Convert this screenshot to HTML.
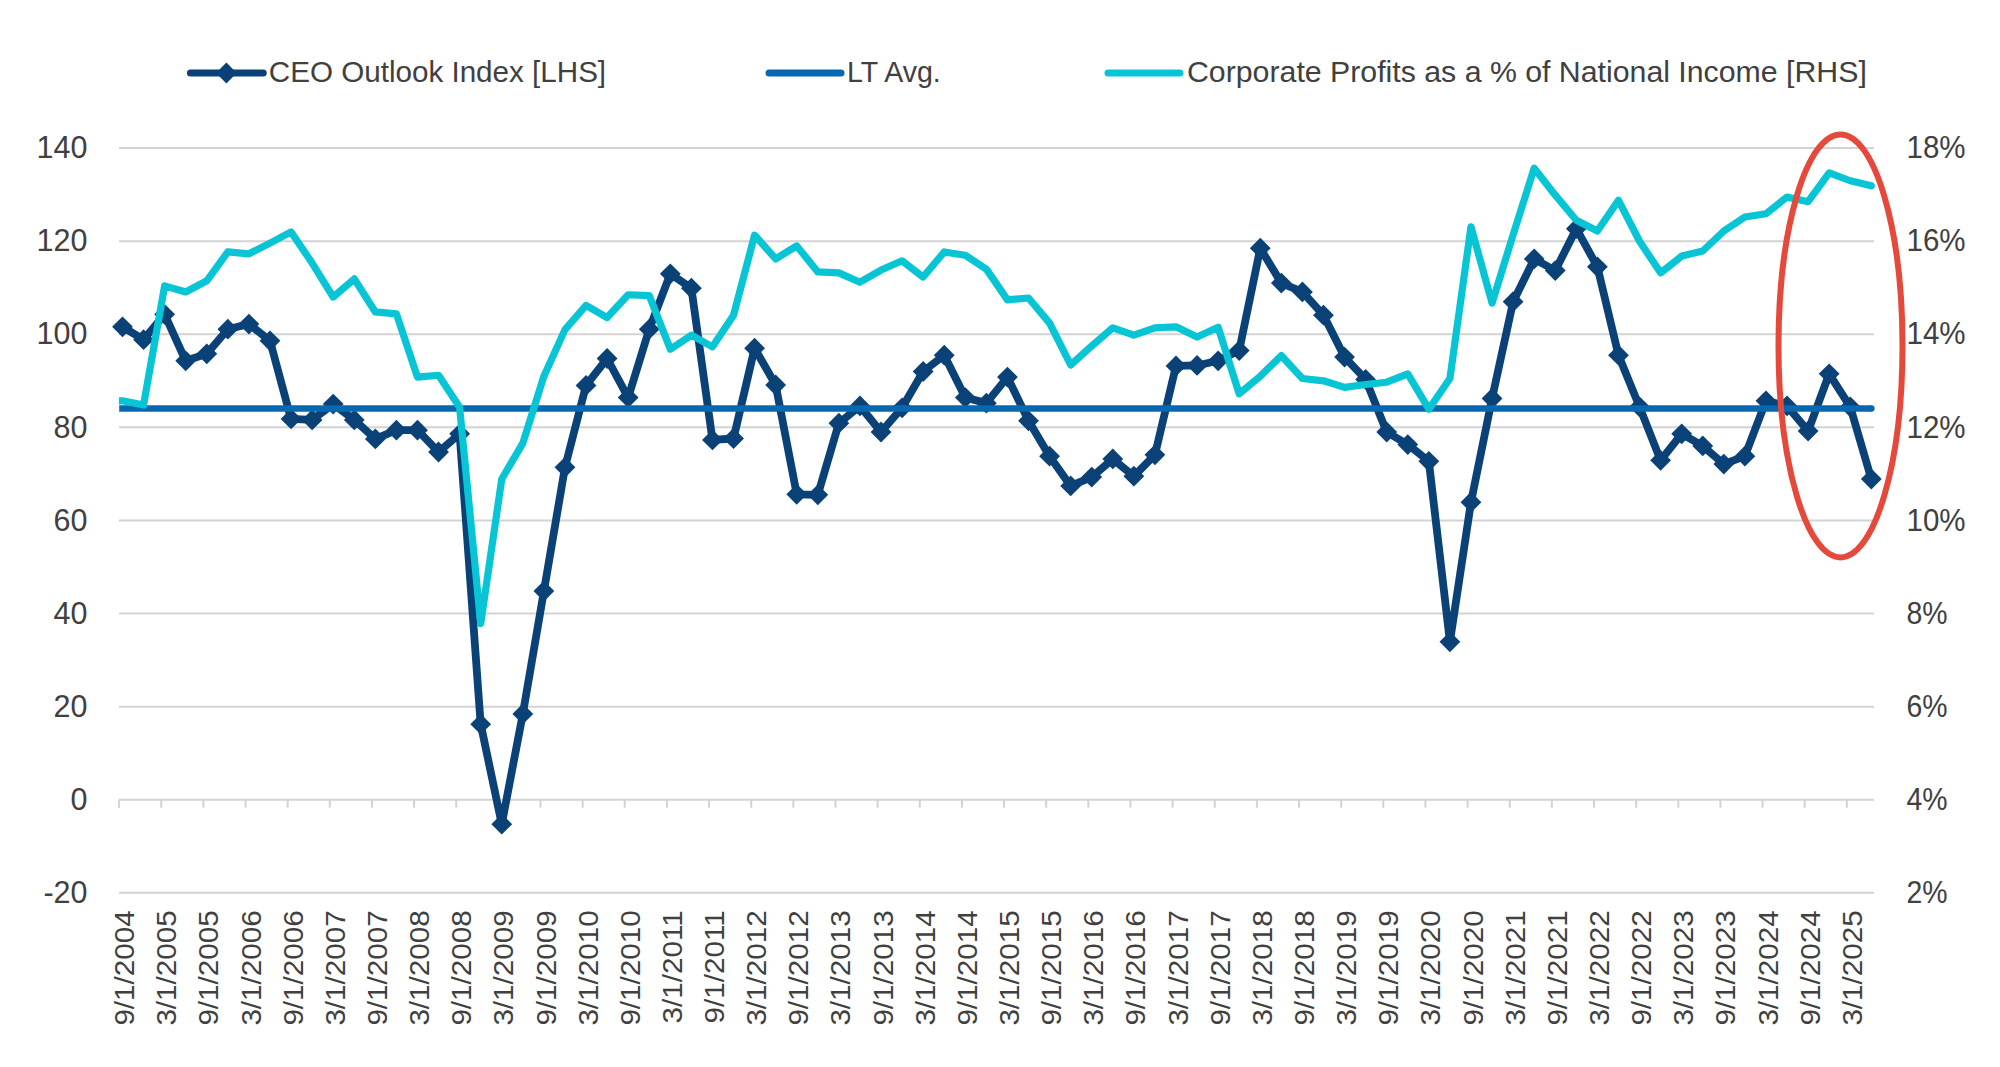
<!DOCTYPE html>
<html><head><meta charset="utf-8"><style>
html,body{margin:0;padding:0;background:#fff;width:2000px;height:1067px;overflow:hidden}
svg{display:block}
text{font-family:"Liberation Sans",sans-serif}
</style></head><body>
<svg width="2000" height="1067" viewBox="0 0 2000 1067">
<rect width="2000" height="1067" fill="#ffffff"/>
<line x1="119.0" y1="148.06" x2="1874.0" y2="148.06" stroke="#d3d3d3" stroke-width="2.0"/>
<line x1="119.0" y1="241.16" x2="1874.0" y2="241.16" stroke="#d3d3d3" stroke-width="2.0"/>
<line x1="119.0" y1="334.26" x2="1874.0" y2="334.26" stroke="#d3d3d3" stroke-width="2.0"/>
<line x1="119.0" y1="427.36" x2="1874.0" y2="427.36" stroke="#d3d3d3" stroke-width="2.0"/>
<line x1="119.0" y1="520.46" x2="1874.0" y2="520.46" stroke="#d3d3d3" stroke-width="2.0"/>
<line x1="119.0" y1="613.56" x2="1874.0" y2="613.56" stroke="#d3d3d3" stroke-width="2.0"/>
<line x1="119.0" y1="706.66" x2="1874.0" y2="706.66" stroke="#d3d3d3" stroke-width="2.0"/>
<line x1="119.0" y1="892.86" x2="1874.0" y2="892.86" stroke="#d3d3d3" stroke-width="2.0"/>
<line x1="119.0" y1="799.76" x2="1874.0" y2="799.76" stroke="#d3d3d3" stroke-width="2.0"/>
<line x1="119.10" y1="799.76" x2="119.10" y2="807.76" stroke="#d3d3d3" stroke-width="2.0"/>
<line x1="161.24" y1="799.76" x2="161.24" y2="807.76" stroke="#d3d3d3" stroke-width="2.0"/>
<line x1="203.38" y1="799.76" x2="203.38" y2="807.76" stroke="#d3d3d3" stroke-width="2.0"/>
<line x1="245.52" y1="799.76" x2="245.52" y2="807.76" stroke="#d3d3d3" stroke-width="2.0"/>
<line x1="287.66" y1="799.76" x2="287.66" y2="807.76" stroke="#d3d3d3" stroke-width="2.0"/>
<line x1="329.80" y1="799.76" x2="329.80" y2="807.76" stroke="#d3d3d3" stroke-width="2.0"/>
<line x1="371.94" y1="799.76" x2="371.94" y2="807.76" stroke="#d3d3d3" stroke-width="2.0"/>
<line x1="414.08" y1="799.76" x2="414.08" y2="807.76" stroke="#d3d3d3" stroke-width="2.0"/>
<line x1="456.22" y1="799.76" x2="456.22" y2="807.76" stroke="#d3d3d3" stroke-width="2.0"/>
<line x1="498.36" y1="799.76" x2="498.36" y2="807.76" stroke="#d3d3d3" stroke-width="2.0"/>
<line x1="540.50" y1="799.76" x2="540.50" y2="807.76" stroke="#d3d3d3" stroke-width="2.0"/>
<line x1="582.64" y1="799.76" x2="582.64" y2="807.76" stroke="#d3d3d3" stroke-width="2.0"/>
<line x1="624.78" y1="799.76" x2="624.78" y2="807.76" stroke="#d3d3d3" stroke-width="2.0"/>
<line x1="666.92" y1="799.76" x2="666.92" y2="807.76" stroke="#d3d3d3" stroke-width="2.0"/>
<line x1="709.06" y1="799.76" x2="709.06" y2="807.76" stroke="#d3d3d3" stroke-width="2.0"/>
<line x1="751.20" y1="799.76" x2="751.20" y2="807.76" stroke="#d3d3d3" stroke-width="2.0"/>
<line x1="793.34" y1="799.76" x2="793.34" y2="807.76" stroke="#d3d3d3" stroke-width="2.0"/>
<line x1="835.48" y1="799.76" x2="835.48" y2="807.76" stroke="#d3d3d3" stroke-width="2.0"/>
<line x1="877.62" y1="799.76" x2="877.62" y2="807.76" stroke="#d3d3d3" stroke-width="2.0"/>
<line x1="919.76" y1="799.76" x2="919.76" y2="807.76" stroke="#d3d3d3" stroke-width="2.0"/>
<line x1="961.90" y1="799.76" x2="961.90" y2="807.76" stroke="#d3d3d3" stroke-width="2.0"/>
<line x1="1004.04" y1="799.76" x2="1004.04" y2="807.76" stroke="#d3d3d3" stroke-width="2.0"/>
<line x1="1046.18" y1="799.76" x2="1046.18" y2="807.76" stroke="#d3d3d3" stroke-width="2.0"/>
<line x1="1088.32" y1="799.76" x2="1088.32" y2="807.76" stroke="#d3d3d3" stroke-width="2.0"/>
<line x1="1130.46" y1="799.76" x2="1130.46" y2="807.76" stroke="#d3d3d3" stroke-width="2.0"/>
<line x1="1172.60" y1="799.76" x2="1172.60" y2="807.76" stroke="#d3d3d3" stroke-width="2.0"/>
<line x1="1214.74" y1="799.76" x2="1214.74" y2="807.76" stroke="#d3d3d3" stroke-width="2.0"/>
<line x1="1256.88" y1="799.76" x2="1256.88" y2="807.76" stroke="#d3d3d3" stroke-width="2.0"/>
<line x1="1299.02" y1="799.76" x2="1299.02" y2="807.76" stroke="#d3d3d3" stroke-width="2.0"/>
<line x1="1341.16" y1="799.76" x2="1341.16" y2="807.76" stroke="#d3d3d3" stroke-width="2.0"/>
<line x1="1383.30" y1="799.76" x2="1383.30" y2="807.76" stroke="#d3d3d3" stroke-width="2.0"/>
<line x1="1425.44" y1="799.76" x2="1425.44" y2="807.76" stroke="#d3d3d3" stroke-width="2.0"/>
<line x1="1467.58" y1="799.76" x2="1467.58" y2="807.76" stroke="#d3d3d3" stroke-width="2.0"/>
<line x1="1509.72" y1="799.76" x2="1509.72" y2="807.76" stroke="#d3d3d3" stroke-width="2.0"/>
<line x1="1551.86" y1="799.76" x2="1551.86" y2="807.76" stroke="#d3d3d3" stroke-width="2.0"/>
<line x1="1594.00" y1="799.76" x2="1594.00" y2="807.76" stroke="#d3d3d3" stroke-width="2.0"/>
<line x1="1636.14" y1="799.76" x2="1636.14" y2="807.76" stroke="#d3d3d3" stroke-width="2.0"/>
<line x1="1678.28" y1="799.76" x2="1678.28" y2="807.76" stroke="#d3d3d3" stroke-width="2.0"/>
<line x1="1720.42" y1="799.76" x2="1720.42" y2="807.76" stroke="#d3d3d3" stroke-width="2.0"/>
<line x1="1762.56" y1="799.76" x2="1762.56" y2="807.76" stroke="#d3d3d3" stroke-width="2.0"/>
<line x1="1804.70" y1="799.76" x2="1804.70" y2="807.76" stroke="#d3d3d3" stroke-width="2.0"/>
<line x1="1846.84" y1="799.76" x2="1846.84" y2="807.76" stroke="#d3d3d3" stroke-width="2.0"/>
<polyline points="122.50,326.84 143.57,339.64 164.64,314.28 185.71,360.80 206.78,353.83 227.85,329.17 248.92,324.05 269.99,340.80 291.06,418.96 312.13,419.89 333.20,404.07 354.27,419.89 375.34,438.97 396.41,430.13 417.48,430.13 438.55,451.99 459.62,433.85 480.69,724.16 501.76,824.19 522.83,713.93 543.90,591.10 564.97,467.35 586.04,385.46 607.11,358.48 628.18,397.56 649.25,329.17 670.32,273.80 691.39,288.23 712.46,439.90 733.53,438.50 754.60,348.24 775.67,385.00 796.74,494.33 817.81,494.80 838.88,423.15 859.95,405.93 881.02,431.99 902.09,407.79 923.16,371.50 944.23,355.22 965.30,397.56 986.37,403.14 1007.44,377.09 1028.51,420.82 1049.58,456.18 1070.65,485.96 1091.72,477.12 1112.79,458.97 1133.86,476.19 1154.93,454.78 1176.00,365.92 1197.07,365.46 1218.14,360.80 1239.21,350.57 1260.28,248.21 1281.35,283.11 1302.42,291.95 1323.49,315.21 1344.56,357.08 1365.63,379.41 1386.70,431.99 1407.77,444.55 1428.84,461.30 1449.91,641.82 1470.98,502.24 1492.05,398.49 1513.12,301.72 1534.19,258.91 1555.26,270.55 1576.33,228.67 1597.40,266.82 1618.47,355.22 1639.54,406.86 1660.61,460.37 1681.68,433.85 1702.75,445.94 1723.82,464.09 1744.89,456.18 1765.96,400.82 1787.03,405.93 1808.10,431.06 1829.17,373.83 1850.24,406.86 1871.31,478.98" fill="none" stroke="#0a4176" stroke-width="7.8" stroke-linejoin="round" stroke-linecap="round"/>
<path d="M122.50 316.44L132.90 326.84L122.50 337.24L112.10 326.84Z" fill="#0a4176"/>
<path d="M143.57 329.24L153.97 339.64L143.57 350.04L133.17 339.64Z" fill="#0a4176"/>
<path d="M164.64 303.88L175.04 314.28L164.64 324.68L154.24 314.28Z" fill="#0a4176"/>
<path d="M185.71 350.40L196.11 360.80L185.71 371.20L175.31 360.80Z" fill="#0a4176"/>
<path d="M206.78 343.43L217.18 353.83L206.78 364.23L196.38 353.83Z" fill="#0a4176"/>
<path d="M227.85 318.77L238.25 329.17L227.85 339.57L217.45 329.17Z" fill="#0a4176"/>
<path d="M248.92 313.65L259.32 324.05L248.92 334.45L238.52 324.05Z" fill="#0a4176"/>
<path d="M269.99 330.40L280.39 340.80L269.99 351.20L259.59 340.80Z" fill="#0a4176"/>
<path d="M291.06 408.56L301.46 418.96L291.06 429.36L280.66 418.96Z" fill="#0a4176"/>
<path d="M312.13 409.49L322.53 419.89L312.13 430.29L301.73 419.89Z" fill="#0a4176"/>
<path d="M333.20 393.67L343.60 404.07L333.20 414.47L322.80 404.07Z" fill="#0a4176"/>
<path d="M354.27 409.49L364.67 419.89L354.27 430.29L343.87 419.89Z" fill="#0a4176"/>
<path d="M375.34 428.57L385.74 438.97L375.34 449.37L364.94 438.97Z" fill="#0a4176"/>
<path d="M396.41 419.73L406.81 430.13L396.41 440.53L386.01 430.13Z" fill="#0a4176"/>
<path d="M417.48 419.73L427.88 430.13L417.48 440.53L407.08 430.13Z" fill="#0a4176"/>
<path d="M438.55 441.59L448.95 451.99L438.55 462.39L428.15 451.99Z" fill="#0a4176"/>
<path d="M459.62 423.45L470.02 433.85L459.62 444.25L449.22 433.85Z" fill="#0a4176"/>
<path d="M480.69 713.76L491.09 724.16L480.69 734.56L470.29 724.16Z" fill="#0a4176"/>
<path d="M501.76 813.79L512.16 824.19L501.76 834.59L491.36 824.19Z" fill="#0a4176"/>
<path d="M522.83 703.53L533.23 713.93L522.83 724.33L512.43 713.93Z" fill="#0a4176"/>
<path d="M543.90 580.70L554.30 591.10L543.90 601.50L533.50 591.10Z" fill="#0a4176"/>
<path d="M564.97 456.95L575.37 467.35L564.97 477.75L554.57 467.35Z" fill="#0a4176"/>
<path d="M586.04 375.06L596.44 385.46L586.04 395.86L575.64 385.46Z" fill="#0a4176"/>
<path d="M607.11 348.08L617.51 358.48L607.11 368.88L596.71 358.48Z" fill="#0a4176"/>
<path d="M628.18 387.16L638.58 397.56L628.18 407.96L617.78 397.56Z" fill="#0a4176"/>
<path d="M649.25 318.77L659.65 329.17L649.25 339.57L638.85 329.17Z" fill="#0a4176"/>
<path d="M670.32 263.40L680.72 273.80L670.32 284.20L659.92 273.80Z" fill="#0a4176"/>
<path d="M691.39 277.83L701.79 288.23L691.39 298.62L680.99 288.23Z" fill="#0a4176"/>
<path d="M712.46 429.50L722.86 439.90L712.46 450.30L702.06 439.90Z" fill="#0a4176"/>
<path d="M733.53 428.10L743.93 438.50L733.53 448.90L723.13 438.50Z" fill="#0a4176"/>
<path d="M754.60 337.84L765.00 348.24L754.60 358.64L744.20 348.24Z" fill="#0a4176"/>
<path d="M775.67 374.60L786.07 385.00L775.67 395.40L765.27 385.00Z" fill="#0a4176"/>
<path d="M796.74 483.93L807.14 494.33L796.74 504.73L786.34 494.33Z" fill="#0a4176"/>
<path d="M817.81 484.40L828.21 494.80L817.81 505.20L807.41 494.80Z" fill="#0a4176"/>
<path d="M838.88 412.75L849.28 423.15L838.88 433.55L828.48 423.15Z" fill="#0a4176"/>
<path d="M859.95 395.53L870.35 405.93L859.95 416.33L849.55 405.93Z" fill="#0a4176"/>
<path d="M881.02 421.59L891.42 431.99L881.02 442.39L870.62 431.99Z" fill="#0a4176"/>
<path d="M902.09 397.39L912.49 407.79L902.09 418.19L891.69 407.79Z" fill="#0a4176"/>
<path d="M923.16 361.10L933.56 371.50L923.16 381.90L912.76 371.50Z" fill="#0a4176"/>
<path d="M944.23 344.82L954.63 355.22L944.23 365.62L933.83 355.22Z" fill="#0a4176"/>
<path d="M965.30 387.16L975.70 397.56L965.30 407.96L954.90 397.56Z" fill="#0a4176"/>
<path d="M986.37 392.74L996.77 403.14L986.37 413.54L975.97 403.14Z" fill="#0a4176"/>
<path d="M1007.44 366.69L1017.84 377.09L1007.44 387.49L997.04 377.09Z" fill="#0a4176"/>
<path d="M1028.51 410.42L1038.91 420.82L1028.51 431.22L1018.11 420.82Z" fill="#0a4176"/>
<path d="M1049.58 445.78L1059.98 456.18L1049.58 466.58L1039.18 456.18Z" fill="#0a4176"/>
<path d="M1070.65 475.56L1081.05 485.96L1070.65 496.36L1060.25 485.96Z" fill="#0a4176"/>
<path d="M1091.72 466.72L1102.12 477.12L1091.72 487.52L1081.32 477.12Z" fill="#0a4176"/>
<path d="M1112.79 448.57L1123.19 458.97L1112.79 469.37L1102.39 458.97Z" fill="#0a4176"/>
<path d="M1133.86 465.79L1144.26 476.19L1133.86 486.59L1123.46 476.19Z" fill="#0a4176"/>
<path d="M1154.93 444.38L1165.33 454.78L1154.93 465.18L1144.53 454.78Z" fill="#0a4176"/>
<path d="M1176.00 355.52L1186.40 365.92L1176.00 376.32L1165.60 365.92Z" fill="#0a4176"/>
<path d="M1197.07 355.06L1207.47 365.46L1197.07 375.86L1186.67 365.46Z" fill="#0a4176"/>
<path d="M1218.14 350.40L1228.54 360.80L1218.14 371.20L1207.74 360.80Z" fill="#0a4176"/>
<path d="M1239.21 340.17L1249.61 350.57L1239.21 360.97L1228.81 350.57Z" fill="#0a4176"/>
<path d="M1260.28 237.81L1270.68 248.21L1260.28 258.61L1249.88 248.21Z" fill="#0a4176"/>
<path d="M1281.35 272.71L1291.75 283.11L1281.35 293.51L1270.95 283.11Z" fill="#0a4176"/>
<path d="M1302.42 281.55L1312.82 291.95L1302.42 302.35L1292.02 291.95Z" fill="#0a4176"/>
<path d="M1323.49 304.81L1333.89 315.21L1323.49 325.61L1313.09 315.21Z" fill="#0a4176"/>
<path d="M1344.56 346.68L1354.96 357.08L1344.56 367.48L1334.16 357.08Z" fill="#0a4176"/>
<path d="M1365.63 369.01L1376.03 379.41L1365.63 389.81L1355.23 379.41Z" fill="#0a4176"/>
<path d="M1386.70 421.59L1397.10 431.99L1386.70 442.39L1376.30 431.99Z" fill="#0a4176"/>
<path d="M1407.77 434.15L1418.17 444.55L1407.77 454.95L1397.37 444.55Z" fill="#0a4176"/>
<path d="M1428.84 450.90L1439.24 461.30L1428.84 471.70L1418.44 461.30Z" fill="#0a4176"/>
<path d="M1449.91 631.42L1460.31 641.82L1449.91 652.22L1439.51 641.82Z" fill="#0a4176"/>
<path d="M1470.98 491.84L1481.38 502.24L1470.98 512.64L1460.58 502.24Z" fill="#0a4176"/>
<path d="M1492.05 388.09L1502.45 398.49L1492.05 408.89L1481.65 398.49Z" fill="#0a4176"/>
<path d="M1513.12 291.32L1523.52 301.72L1513.12 312.12L1502.72 301.72Z" fill="#0a4176"/>
<path d="M1534.19 248.51L1544.59 258.91L1534.19 269.31L1523.79 258.91Z" fill="#0a4176"/>
<path d="M1555.26 260.15L1565.66 270.55L1555.26 280.95L1544.86 270.55Z" fill="#0a4176"/>
<path d="M1576.33 218.27L1586.73 228.67L1576.33 239.07L1565.93 228.67Z" fill="#0a4176"/>
<path d="M1597.40 256.42L1607.80 266.82L1597.40 277.22L1587.00 266.82Z" fill="#0a4176"/>
<path d="M1618.47 344.82L1628.87 355.22L1618.47 365.62L1608.07 355.22Z" fill="#0a4176"/>
<path d="M1639.54 396.46L1649.94 406.86L1639.54 417.26L1629.14 406.86Z" fill="#0a4176"/>
<path d="M1660.61 449.97L1671.01 460.37L1660.61 470.77L1650.21 460.37Z" fill="#0a4176"/>
<path d="M1681.68 423.45L1692.08 433.85L1681.68 444.25L1671.28 433.85Z" fill="#0a4176"/>
<path d="M1702.75 435.54L1713.15 445.94L1702.75 456.34L1692.35 445.94Z" fill="#0a4176"/>
<path d="M1723.82 453.69L1734.22 464.09L1723.82 474.49L1713.42 464.09Z" fill="#0a4176"/>
<path d="M1744.89 445.78L1755.29 456.18L1744.89 466.58L1734.49 456.18Z" fill="#0a4176"/>
<path d="M1765.96 390.42L1776.36 400.82L1765.96 411.22L1755.56 400.82Z" fill="#0a4176"/>
<path d="M1787.03 395.53L1797.43 405.93L1787.03 416.33L1776.63 405.93Z" fill="#0a4176"/>
<path d="M1808.10 420.66L1818.50 431.06L1808.10 441.46L1797.70 431.06Z" fill="#0a4176"/>
<path d="M1829.17 363.43L1839.57 373.83L1829.17 384.23L1818.77 373.83Z" fill="#0a4176"/>
<path d="M1850.24 396.46L1860.64 406.86L1850.24 417.26L1839.84 406.86Z" fill="#0a4176"/>
<path d="M1871.31 468.58L1881.71 478.98L1871.31 489.38L1860.91 478.98Z" fill="#0a4176"/>
<line x1="119.20" y1="408.49" x2="1871.31" y2="408.49" stroke="#0568b1" stroke-width="6.6" stroke-linecap="butt"/>
<circle cx="1871.31" cy="408.49" r="3.30" fill="#0568b1"/>
<polyline points="118.90,400.82 122.50,400.82 143.57,405.00 164.64,285.90 185.71,291.95 206.78,280.78 227.85,251.94 248.92,253.80 269.99,243.10 291.06,231.93 312.13,263.10 333.20,297.06 354.27,278.92 375.34,311.95 396.41,313.81 417.48,377.09 438.55,375.23 459.62,407.33 480.69,623.67 501.76,478.98 522.83,443.15 543.90,376.16 564.97,329.63 586.04,305.44 607.11,317.54 628.18,294.74 649.25,295.67 670.32,349.17 691.39,335.22 712.46,346.85 733.53,315.21 754.60,235.19 775.67,258.91 796.74,245.89 817.81,271.94 838.88,272.87 859.95,282.18 881.02,270.08 902.09,260.78 923.16,277.06 944.23,251.94 965.30,255.19 986.37,269.15 1007.44,299.86 1028.51,298.00 1049.58,323.12 1070.65,364.99 1091.72,345.92 1112.79,327.77 1133.86,335.22 1154.93,327.77 1176.00,326.84 1197.07,337.08 1218.14,327.31 1239.21,393.84 1260.28,376.16 1281.35,355.69 1302.42,378.48 1323.49,380.81 1344.56,387.32 1365.63,384.53 1386.70,382.21 1407.77,373.83 1428.84,409.19 1449.91,378.48 1470.98,226.81 1492.05,303.11 1513.12,234.72 1534.19,168.19 1555.26,195.18 1576.33,220.30 1597.40,231.00 1618.47,200.29 1639.54,241.23 1660.61,272.87 1681.68,256.12 1702.75,251.00 1723.82,231.00 1744.89,217.04 1765.96,213.78 1787.03,197.04 1808.10,201.69 1829.17,172.84 1850.24,180.75 1871.31,185.87" fill="none" stroke="#08c5d6" stroke-width="7.2" stroke-linejoin="round" stroke-linecap="butt"/>
<circle cx="1871.31" cy="185.87" r="3.60" fill="#08c5d6"/>
<ellipse cx="1840.5" cy="345.9" rx="62" ry="211.5" fill="none" stroke="#e5493c" stroke-width="6.0"/>
<text x="87.5" y="158.26" font-family="Liberation Sans, sans-serif" font-size="30.5" fill="#404040" text-anchor="end">140</text>
<text x="87.5" y="251.36" font-family="Liberation Sans, sans-serif" font-size="30.5" fill="#404040" text-anchor="end">120</text>
<text x="87.5" y="344.46" font-family="Liberation Sans, sans-serif" font-size="30.5" fill="#404040" text-anchor="end">100</text>
<text x="87.5" y="437.56" font-family="Liberation Sans, sans-serif" font-size="30.5" fill="#404040" text-anchor="end">80</text>
<text x="87.5" y="530.66" font-family="Liberation Sans, sans-serif" font-size="30.5" fill="#404040" text-anchor="end">60</text>
<text x="87.5" y="623.76" font-family="Liberation Sans, sans-serif" font-size="30.5" fill="#404040" text-anchor="end">40</text>
<text x="87.5" y="716.86" font-family="Liberation Sans, sans-serif" font-size="30.5" fill="#404040" text-anchor="end">20</text>
<text x="87.5" y="809.96" font-family="Liberation Sans, sans-serif" font-size="30.5" fill="#404040" text-anchor="end">0</text>
<text x="87.5" y="903.06" font-family="Liberation Sans, sans-serif" font-size="30.5" fill="#404040" text-anchor="end">-20</text>
<text x="1906.5" y="158.26" textLength="59.1" lengthAdjust="spacingAndGlyphs" font-family="Liberation Sans, sans-serif" font-size="30.5" fill="#404040">18%</text>
<text x="1906.5" y="251.36" textLength="59.1" lengthAdjust="spacingAndGlyphs" font-family="Liberation Sans, sans-serif" font-size="30.5" fill="#404040">16%</text>
<text x="1906.5" y="344.46" textLength="59.1" lengthAdjust="spacingAndGlyphs" font-family="Liberation Sans, sans-serif" font-size="30.5" fill="#404040">14%</text>
<text x="1906.5" y="437.56" textLength="59.1" lengthAdjust="spacingAndGlyphs" font-family="Liberation Sans, sans-serif" font-size="30.5" fill="#404040">12%</text>
<text x="1906.5" y="530.66" textLength="59.1" lengthAdjust="spacingAndGlyphs" font-family="Liberation Sans, sans-serif" font-size="30.5" fill="#404040">10%</text>
<text x="1906.5" y="623.76" textLength="41.1" lengthAdjust="spacingAndGlyphs" font-family="Liberation Sans, sans-serif" font-size="30.5" fill="#404040">8%</text>
<text x="1906.5" y="716.86" textLength="41.1" lengthAdjust="spacingAndGlyphs" font-family="Liberation Sans, sans-serif" font-size="30.5" fill="#404040">6%</text>
<text x="1906.5" y="809.96" textLength="41.1" lengthAdjust="spacingAndGlyphs" font-family="Liberation Sans, sans-serif" font-size="30.5" fill="#404040">4%</text>
<text x="1906.5" y="903.06" textLength="41.1" lengthAdjust="spacingAndGlyphs" font-family="Liberation Sans, sans-serif" font-size="30.5" fill="#404040">2%</text>
<text transform="translate(134.10,910.3) rotate(-90) scale(1.0776,1)" font-family="Liberation Sans, sans-serif" font-size="27.5" fill="#404040" text-anchor="end">9/1/2004</text>
<text transform="translate(176.24,910.3) rotate(-90) scale(1.0776,1)" font-family="Liberation Sans, sans-serif" font-size="27.5" fill="#404040" text-anchor="end">3/1/2005</text>
<text transform="translate(218.38,910.3) rotate(-90) scale(1.0776,1)" font-family="Liberation Sans, sans-serif" font-size="27.5" fill="#404040" text-anchor="end">9/1/2005</text>
<text transform="translate(260.52,910.3) rotate(-90) scale(1.0776,1)" font-family="Liberation Sans, sans-serif" font-size="27.5" fill="#404040" text-anchor="end">3/1/2006</text>
<text transform="translate(302.66,910.3) rotate(-90) scale(1.0776,1)" font-family="Liberation Sans, sans-serif" font-size="27.5" fill="#404040" text-anchor="end">9/1/2006</text>
<text transform="translate(344.80,910.3) rotate(-90) scale(1.0776,1)" font-family="Liberation Sans, sans-serif" font-size="27.5" fill="#404040" text-anchor="end">3/1/2007</text>
<text transform="translate(386.94,910.3) rotate(-90) scale(1.0776,1)" font-family="Liberation Sans, sans-serif" font-size="27.5" fill="#404040" text-anchor="end">9/1/2007</text>
<text transform="translate(429.08,910.3) rotate(-90) scale(1.0776,1)" font-family="Liberation Sans, sans-serif" font-size="27.5" fill="#404040" text-anchor="end">3/1/2008</text>
<text transform="translate(471.22,910.3) rotate(-90) scale(1.0776,1)" font-family="Liberation Sans, sans-serif" font-size="27.5" fill="#404040" text-anchor="end">9/1/2008</text>
<text transform="translate(513.36,910.3) rotate(-90) scale(1.0776,1)" font-family="Liberation Sans, sans-serif" font-size="27.5" fill="#404040" text-anchor="end">3/1/2009</text>
<text transform="translate(555.50,910.3) rotate(-90) scale(1.0776,1)" font-family="Liberation Sans, sans-serif" font-size="27.5" fill="#404040" text-anchor="end">9/1/2009</text>
<text transform="translate(597.64,910.3) rotate(-90) scale(1.0776,1)" font-family="Liberation Sans, sans-serif" font-size="27.5" fill="#404040" text-anchor="end">3/1/2010</text>
<text transform="translate(639.78,910.3) rotate(-90) scale(1.0776,1)" font-family="Liberation Sans, sans-serif" font-size="27.5" fill="#404040" text-anchor="end">9/1/2010</text>
<text transform="translate(681.92,910.3) rotate(-90) scale(1.0776,1)" font-family="Liberation Sans, sans-serif" font-size="27.5" fill="#404040" text-anchor="end">3/1/2011</text>
<text transform="translate(724.06,910.3) rotate(-90) scale(1.0776,1)" font-family="Liberation Sans, sans-serif" font-size="27.5" fill="#404040" text-anchor="end">9/1/2011</text>
<text transform="translate(766.20,910.3) rotate(-90) scale(1.0776,1)" font-family="Liberation Sans, sans-serif" font-size="27.5" fill="#404040" text-anchor="end">3/1/2012</text>
<text transform="translate(808.34,910.3) rotate(-90) scale(1.0776,1)" font-family="Liberation Sans, sans-serif" font-size="27.5" fill="#404040" text-anchor="end">9/1/2012</text>
<text transform="translate(850.48,910.3) rotate(-90) scale(1.0776,1)" font-family="Liberation Sans, sans-serif" font-size="27.5" fill="#404040" text-anchor="end">3/1/2013</text>
<text transform="translate(892.62,910.3) rotate(-90) scale(1.0776,1)" font-family="Liberation Sans, sans-serif" font-size="27.5" fill="#404040" text-anchor="end">9/1/2013</text>
<text transform="translate(934.76,910.3) rotate(-90) scale(1.0776,1)" font-family="Liberation Sans, sans-serif" font-size="27.5" fill="#404040" text-anchor="end">3/1/2014</text>
<text transform="translate(976.90,910.3) rotate(-90) scale(1.0776,1)" font-family="Liberation Sans, sans-serif" font-size="27.5" fill="#404040" text-anchor="end">9/1/2014</text>
<text transform="translate(1019.04,910.3) rotate(-90) scale(1.0776,1)" font-family="Liberation Sans, sans-serif" font-size="27.5" fill="#404040" text-anchor="end">3/1/2015</text>
<text transform="translate(1061.18,910.3) rotate(-90) scale(1.0776,1)" font-family="Liberation Sans, sans-serif" font-size="27.5" fill="#404040" text-anchor="end">9/1/2015</text>
<text transform="translate(1103.32,910.3) rotate(-90) scale(1.0776,1)" font-family="Liberation Sans, sans-serif" font-size="27.5" fill="#404040" text-anchor="end">3/1/2016</text>
<text transform="translate(1145.46,910.3) rotate(-90) scale(1.0776,1)" font-family="Liberation Sans, sans-serif" font-size="27.5" fill="#404040" text-anchor="end">9/1/2016</text>
<text transform="translate(1187.60,910.3) rotate(-90) scale(1.0776,1)" font-family="Liberation Sans, sans-serif" font-size="27.5" fill="#404040" text-anchor="end">3/1/2017</text>
<text transform="translate(1229.74,910.3) rotate(-90) scale(1.0776,1)" font-family="Liberation Sans, sans-serif" font-size="27.5" fill="#404040" text-anchor="end">9/1/2017</text>
<text transform="translate(1271.88,910.3) rotate(-90) scale(1.0776,1)" font-family="Liberation Sans, sans-serif" font-size="27.5" fill="#404040" text-anchor="end">3/1/2018</text>
<text transform="translate(1314.02,910.3) rotate(-90) scale(1.0776,1)" font-family="Liberation Sans, sans-serif" font-size="27.5" fill="#404040" text-anchor="end">9/1/2018</text>
<text transform="translate(1356.16,910.3) rotate(-90) scale(1.0776,1)" font-family="Liberation Sans, sans-serif" font-size="27.5" fill="#404040" text-anchor="end">3/1/2019</text>
<text transform="translate(1398.30,910.3) rotate(-90) scale(1.0776,1)" font-family="Liberation Sans, sans-serif" font-size="27.5" fill="#404040" text-anchor="end">9/1/2019</text>
<text transform="translate(1440.44,910.3) rotate(-90) scale(1.0776,1)" font-family="Liberation Sans, sans-serif" font-size="27.5" fill="#404040" text-anchor="end">3/1/2020</text>
<text transform="translate(1482.58,910.3) rotate(-90) scale(1.0776,1)" font-family="Liberation Sans, sans-serif" font-size="27.5" fill="#404040" text-anchor="end">9/1/2020</text>
<text transform="translate(1524.72,910.3) rotate(-90) scale(1.0776,1)" font-family="Liberation Sans, sans-serif" font-size="27.5" fill="#404040" text-anchor="end">3/1/2021</text>
<text transform="translate(1566.86,910.3) rotate(-90) scale(1.0776,1)" font-family="Liberation Sans, sans-serif" font-size="27.5" fill="#404040" text-anchor="end">9/1/2021</text>
<text transform="translate(1609.00,910.3) rotate(-90) scale(1.0776,1)" font-family="Liberation Sans, sans-serif" font-size="27.5" fill="#404040" text-anchor="end">3/1/2022</text>
<text transform="translate(1651.14,910.3) rotate(-90) scale(1.0776,1)" font-family="Liberation Sans, sans-serif" font-size="27.5" fill="#404040" text-anchor="end">9/1/2022</text>
<text transform="translate(1693.28,910.3) rotate(-90) scale(1.0776,1)" font-family="Liberation Sans, sans-serif" font-size="27.5" fill="#404040" text-anchor="end">3/1/2023</text>
<text transform="translate(1735.42,910.3) rotate(-90) scale(1.0776,1)" font-family="Liberation Sans, sans-serif" font-size="27.5" fill="#404040" text-anchor="end">9/1/2023</text>
<text transform="translate(1777.56,910.3) rotate(-90) scale(1.0776,1)" font-family="Liberation Sans, sans-serif" font-size="27.5" fill="#404040" text-anchor="end">3/1/2024</text>
<text transform="translate(1819.70,910.3) rotate(-90) scale(1.0776,1)" font-family="Liberation Sans, sans-serif" font-size="27.5" fill="#404040" text-anchor="end">9/1/2024</text>
<text transform="translate(1861.84,910.3) rotate(-90) scale(1.0776,1)" font-family="Liberation Sans, sans-serif" font-size="27.5" fill="#404040" text-anchor="end">3/1/2025</text>
<line x1="190.5" y1="73" x2="263.2" y2="73" stroke="#0a4176" stroke-width="7.2" stroke-linecap="round"/>
<path d="M226.4 62.6L236.8 73L226.4 83.4L216 73Z" fill="#0a4176"/>
<text x="268.8" y="81.6" textLength="337.3" lengthAdjust="spacingAndGlyphs" font-family="Liberation Sans, sans-serif" font-size="29.5" fill="#404040">CEO Outlook Index [LHS]</text>
<line x1="769" y1="73" x2="841" y2="73" stroke="#0568b1" stroke-width="7" stroke-linecap="round"/>
<text x="847.1" y="81.6" textLength="93.7" lengthAdjust="spacingAndGlyphs" font-family="Liberation Sans, sans-serif" font-size="29.5" fill="#404040">LT Avg.</text>
<line x1="1108" y1="73" x2="1180" y2="73" stroke="#08c5d6" stroke-width="7" stroke-linecap="round"/>
<text x="1187" y="81.6" textLength="679.8" lengthAdjust="spacingAndGlyphs" font-family="Liberation Sans, sans-serif" font-size="29.5" fill="#404040">Corporate Profits as a % of National Income [RHS]</text>
</svg>
</body></html>
